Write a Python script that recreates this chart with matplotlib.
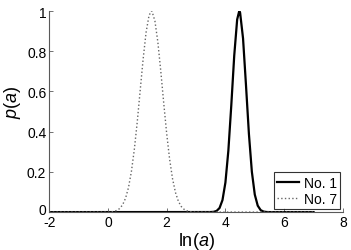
import matplotlib
matplotlib.use("Agg")
import matplotlib.pyplot as plt
from matplotlib.transforms import ScaledTranslation

plt.rcParams['font.family'] = ['Liberation Sans', 'DejaVu Sans']
plt.rcParams['mathtext.fontset'] = 'custom'
plt.rcParams['mathtext.rm'] = 'Liberation Sans'
plt.rcParams['mathtext.it'] = 'Liberation Sans:italic'

# No. 1 (solid)
x1 = [-2.0, 3.5, 3.6, 3.7, 3.8, 3.9, 4.0, 4.1, 4.2, 4.3, 4.4, 4.47, 4.5, 4.6, 4.7,
      4.8, 4.9, 5.0, 5.1, 5.2, 5.3, 5.4, 5.5, 7.0]
y1 = [0.0, 0.0003, 0.0014, 0.0058, 0.0203, 0.0596, 0.147, 0.305, 0.531, 0.778, 0.958,
      1.0, 0.992, 0.864, 0.632, 0.389, 0.201, 0.087, 0.032, 0.0098, 0.0025, 0.0005,
      0.0, 0.0]

# No. 7 (dotted)
x7 = [-2.0, 0.1, 0.2, 0.3, 0.4, 0.5, 0.6, 0.7, 0.8, 0.9, 1.0, 1.1, 1.2, 1.3, 1.4, 1.48,
      1.5, 1.6, 1.7, 1.8, 1.9, 2.0, 2.1, 2.2, 2.3, 2.4, 2.5, 2.6, 2.7, 2.8, 2.9, 7.0]
y7 = [0.0, 0.0, 0.0034, 0.0081, 0.0176, 0.036, 0.0685, 0.1216, 0.2017, 0.312, 0.450,
      0.607, 0.762, 0.894, 0.978, 1.0, 0.999, 0.951, 0.846, 0.701, 0.543, 0.392, 0.264,
      0.166, 0.0975, 0.0533, 0.0273, 0.013, 0.0058, 0.0024, 0.0, 0.0]

xticks = [-2, 0, 2, 4, 6, 8]
yticks = [0, 0.2, 0.4, 0.6, 0.8, 1]
ytick_labels = ['0', '0.2', '0.4', '0.6', '0.8', '1']

fig = plt.figure(figsize=(3.51, 2.51), dpi=100)
ax = fig.add_axes([0.140, 0.151, 0.837, 0.801])

ax.plot(x1, y1, color='black', linewidth=1.6, label='No. 1')
ax.plot(x7, y7, color='0.4', linewidth=1.0, linestyle=':', label='No. 7')

ax.set_xlim(-2, 8)
ax.set_ylim(0, 1)
ax.set_xticks(xticks)
ax.set_xticklabels([str(t) for t in xticks])
ax.set_yticks(yticks)
ax.set_yticklabels(ytick_labels)

for s in ['top', 'right']:
    ax.spines[s].set_visible(False)
for s in ['left', 'bottom']:
    ax.spines[s].set_color('0.35')
    ax.spines[s].set_linewidth(0.8)

ax.tick_params(direction='in', length=3, width=0.6, color='0.35',
               labelsize=10, pad=2)

# nudge the y "0" label up slightly, as in the reference
lbl0 = ax.get_yticklabels()[0]
lbl0.set_transform(lbl0.get_transform() + ScaledTranslation(0, 2.5 / 72, fig.dpi_scale_trans))

ax.set_xlabel(r'$\mathrm{ln}(a)$', fontsize=13, labelpad=1)
ax.set_ylabel(r'$p(a)$', fontsize=13)
ax.yaxis.set_label_coords(-0.088, 0.55)

leg = ax.legend(loc='lower right', fontsize=10, frameon=True, fancybox=False,
                borderpad=0.25, handlelength=1.6, handletextpad=0.3,
                labelspacing=0.15, borderaxespad=0.2)
leg.get_frame().set_edgecolor('black')
leg.get_frame().set_linewidth(0.8)

fig.savefig('out.png', dpi=100)
